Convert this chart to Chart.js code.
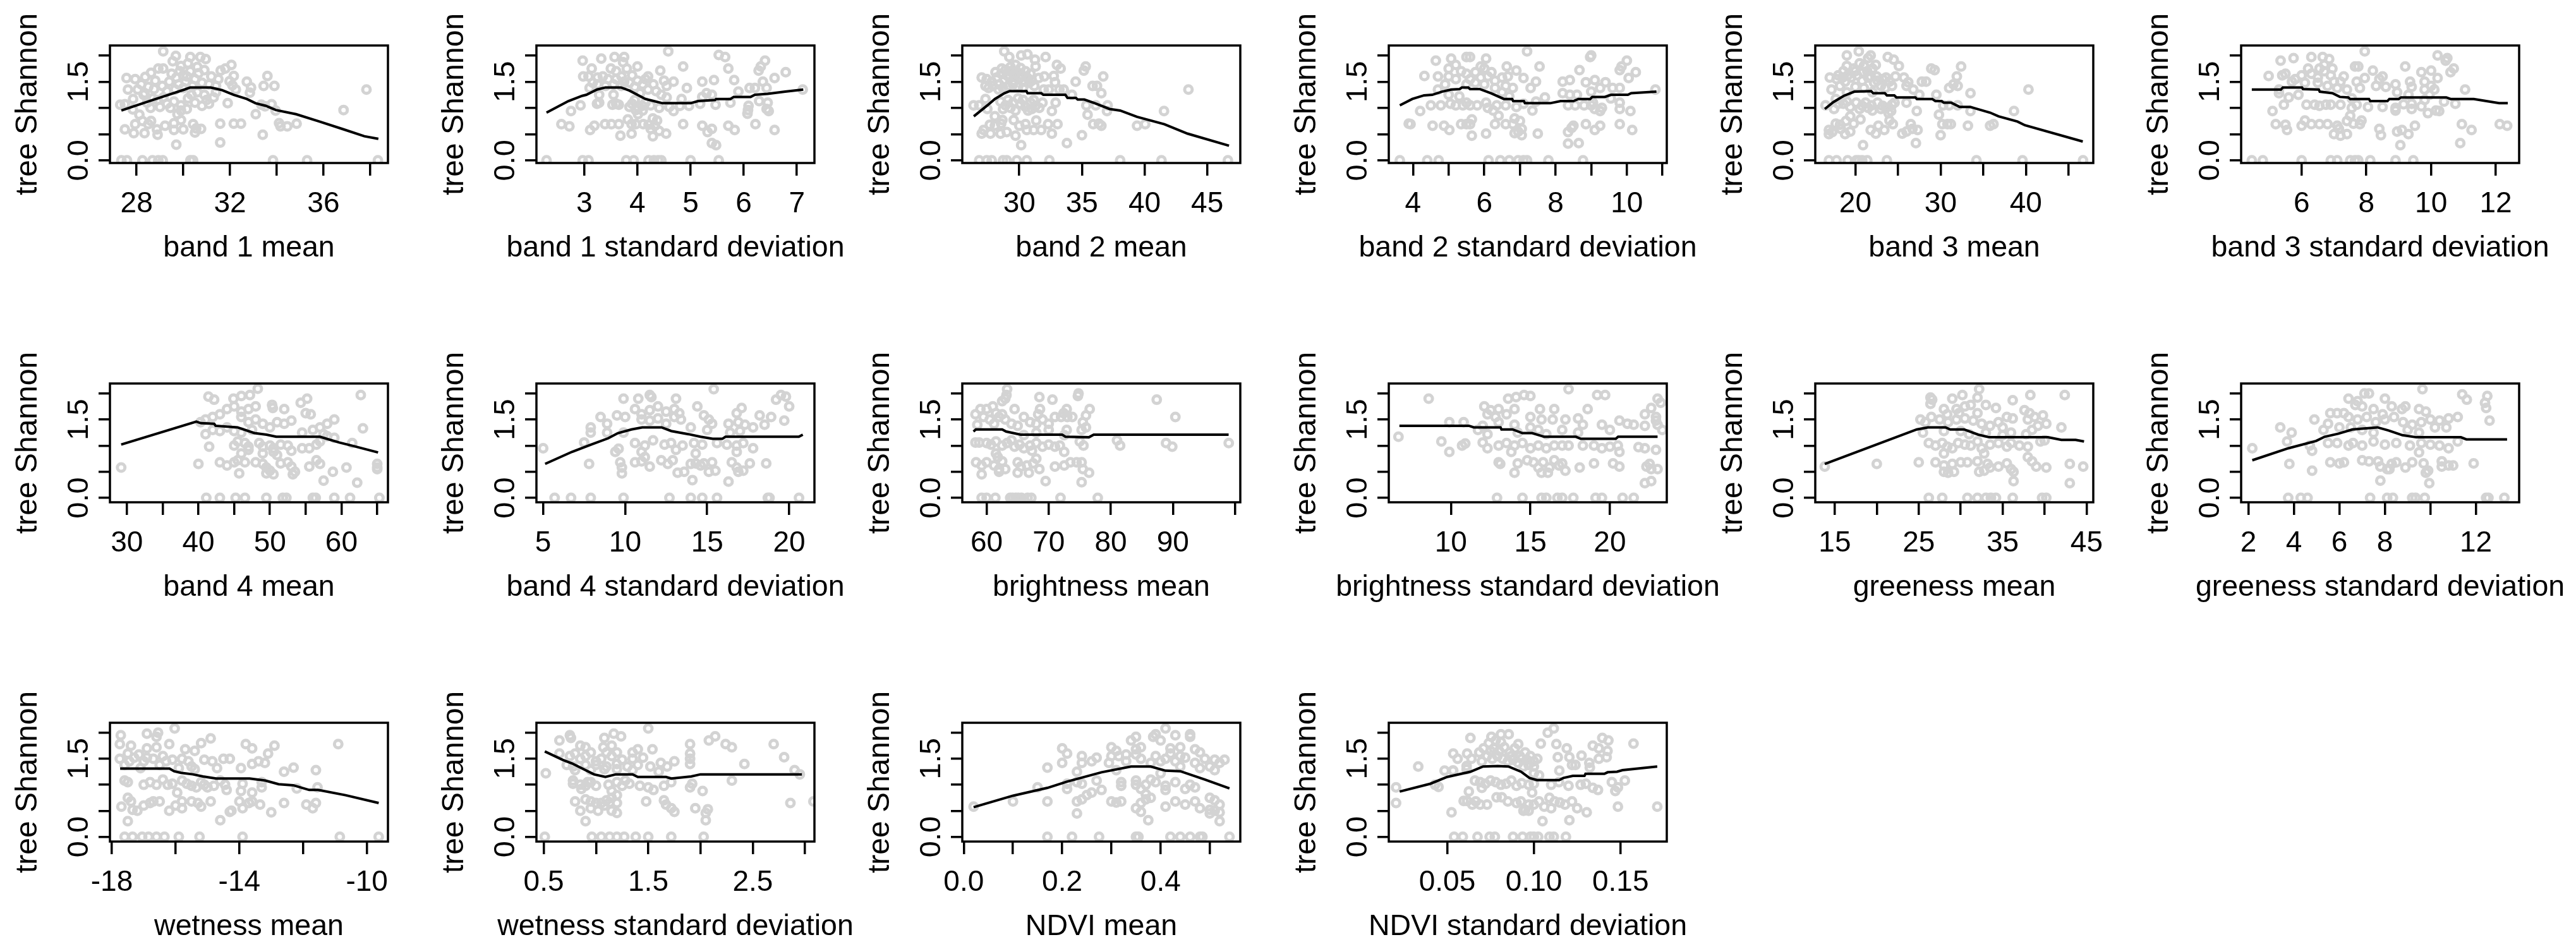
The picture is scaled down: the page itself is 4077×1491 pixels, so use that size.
<!DOCTYPE html>
<html>
<head>
<meta charset="utf-8">
<title>tree Shannon</title>
<script src="https://cdn.jsdelivr.net/npm/chart.js@4/dist/chart.umd.min.js"></script>
<style>
body { margin: 0; background: #fff; width: 4077px; height: 1491px; overflow: hidden; }
canvas { position: absolute; }
</style>
</head>
<body>
<script>
const yAxisTitle = 'tree Shannon';
const yTicks = [0, 0.5, 1, 1.5, 2];
const yTickLabels = ['0.0', '', '', '1.5', ''];

const panelTitles = ['band 1 mean', 'band 1 standard deviation', 'band 2 mean', 'band 2 standard deviation', 'band 3 mean', 'band 3 standard deviation',
  'band 4 mean', 'band 4 standard deviation', 'brightness mean', 'brightness standard deviation', 'greeness mean', 'greeness standard deviation',
  'wetness mean', 'wetness standard deviation', 'NDVI mean', 'NDVI standard deviation'];

const xLimits = [[26.86, 38.76], [2.1, 7.33], [25.45, 47.64], [3.32, 11.12], [15.3, 47.9], [4.13, 12.72],
  [27.63, 66.5], [4.59, 21.54], [56.08, 100.86], [6.09, 23.58], [12.67, 45.8], [1.68, 13.9],
  [-18.06, -9.34], [0.43, 3.09], [-0.003, 0.562], [0.0163, 0.1767]];

const xTicks = [[28, 30, 32, 34, 36, 38], [3, 4, 5, 6, 7], [30, 35, 40, 45], [4, 5, 6, 7, 8, 9, 10, 11], [20, 25, 30, 35, 40, 45], [6, 8, 10, 12],
  [30, 35, 40, 45, 50, 55, 60, 65], [5, 10, 15, 20], [60, 70, 80, 90, 100], [10, 15, 20], [15, 20, 25, 30, 35, 40, 45], [2, 4, 6, 8, 10, 12],
  [-18, -16, -14, -12, -10], [0.5, 1, 1.5, 2, 2.5, 3], [0, 0.1, 0.2, 0.3, 0.4, 0.5], [0.05, 0.1, 0.15]];

const xTickLabels = [['28', '', '32', '', '36', ''], ['3', '4', '5', '6', '7'], ['30', '35', '40', '45'], ['4', '', '6', '', '8', '', '10', ''], ['20', '', '30', '', '40', ''], ['6', '8', '10', '12'],
  ['30', '', '40', '', '50', '', '60', ''], ['5', '10', '15', '20'], ['60', '70', '80', '90', ''], ['10', '15', '20'], ['15', '', '25', '', '35', '', '45'], ['2', '4', '6', '8', '', '12'],
  ['-18', '', '-14', '', '-10'], ['0.5', '', '1.5', '', '2.5', ''], ['0.0', '', '0.2', '', '0.4', ''], ['0.05', '0.10', '0.15']];

// points as [x, shannon]
const band1MeanPts = [[29.14,2.08],[29.68,1.99],[29.55,1.89],[30.3,1.97],[30.73,1.97],[30.96,1.93],[32.06,1.82],[31.8,1.75],[31.6,1.71],[33.6,1.61],[32.72,1.5],[32.9,1.39],[32.85,1.29],[33.44,1.42],[33.9,1.42],[37.84,1.35],[36.86,.96],[32.16,1.61],[31.98,1.51],[32.1,1.43],[32.25,1.35],[31.9,1.09],[33.34,1.06],[33.78,1.07],[33.5,1.03],[33.95,.95],[33.1,.88],[31.58,.7],[32.16,.7],[32.47,.7],[34.1,.71],[34.16,.65],[34.45,.65],[34.85,.7],[33.4,.49],[31.58,.34],[29.7,.3],
[27.35,0],[27.59,0],[28.25,0],[28.68,0],[28.93,0],[29.12,0],[30.3,0],[30.42,0],[33.84,0],[35.3,0],[38.33,0],
[27.5,.59],[27.88,.52],[28.34,.52],[27.94,.69],[28.25,.75],[28.62,.75],[28.12,.87],[28.5,.69],[28.87,.59],[28.9,.49],[29.22,.66],[29.6,.71],[29.6,.58],[30,.59],[29.9,.77],[30.42,.69],[30.5,.53],[30.76,.6],[30.55,.61],
[27.57,1.57],[27.94,1.55],[27.63,1.35],[27.85,1.17],[27.3,1.06],[27.5,1.07],[27.84,.97],[28.37,1.59],[28.62,1.67],[28.93,1.75],[29.14,1.75],[28.2,1.45],[28.5,1.4],[28.8,1.52],[29.1,1.42],[29.4,1.5],[29.7,1.58],[30,1.62],[30.3,1.7],[30.6,1.78],[30.9,1.72],[31.2,1.6],[31.5,1.55],[29.9,1.8],[30.2,1.85],[30.5,1.55],[30.8,1.48],[31.1,1.45],[29.5,1.65],[29.8,1.45],[30.1,1.5],[30.4,1.42],[28.05,1.35],[28.35,1.28],[28.75,1.36],[29.3,1.32],[29.65,1.35],[30,1.38],[30.65,1.66],[30.15,1.6],[29.85,1.7],[31.4,1.42],
[28.3,1.25],[28.7,1.18],[29,1.02],[29.3,1.08],[28.6,1.0],[28.9,1.15],[29.6,1.12],[29.9,1.05],[30.2,1.18],[30.5,1.1],[30.8,1.04],[31.1,1.08],[31.3,1.2],[31.4,1.3],[30.9,1.25],[30.6,1.3],[29.9,.95],[29.75,.88],[30.15,.98],[29.15,1.2],[29.45,1],[28.45,1.1],[30.35,1.25],[31,1.15]];
const band1MeanLine = [[27.35,.95],[27.87,1.03],[28.62,1.14],[29.24,1.23],[30.05,1.35],[30.3,1.39],[31.17,1.39],[31.66,1.34],[32.16,1.25],[32.72,1.17],[33.09,1.09],[33.53,1.04],[33.96,.96],[34.83,.88],[35.83,.74],[36.8,.6],[37.75,.46],[38.35,.41]];

const band1SdPts = [[4.58,2.08],[5.53,2.01],[5.65,1.97],[5.71,1.75],[4.86,1.79],[2.97,1.9],[3.32,1.94],[3.57,1.97],[3.75,1.97],[3.73,1.87],[3.14,1.75],[4,1.79],[4.43,1.71],[6.4,1.9],[6.32,1.79],[6.28,1.71],[6.79,1.68],[6.58,1.57],[6.36,1.5],[6.43,1.38],[5.82,1.53],[5.44,1.53],[5.22,1.5],[4.68,1.5],[4.93,1.38],[6.11,1.38],[6.21,1.38],[5.9,1.31],[7.11,1.35],[5.3,1.28],[5.4,1.25],[5.22,1.21],[4.83,1.17],[5.47,1.06],[5.18,1.08],[4.97,1.04],[5.75,1.1],[6.29,1.13],[6.45,1.1],[6.09,1.04],[6.08,.96],[6.07,.89],[6.43,.98],[6.47,.94],[4.6,1.02],[4.68,.94],[4.8,1.04],[4.86,.69],[5.22,.66],[5.4,.6],[5.32,.54],[5.71,.66],[5.83,.58],[6.22,.69],[6.58,.58],[5.4,.33],[5.48,.29],
[2.29,0],[2.97,0],[3.08,0],[3.79,0],[3.93,0],[4.21,0],[4.31,0],[4.39,0],[4.45,0],[5,0],[5.53,0],
[2.57,.69],[2.72,.65],[2.75,.94],[2.93,1.05],[3.11,.58],[3.19,.66],[3.39,.69],[3.51,.69],[3.65,.69],[3.68,.47],[3.89,.51],[3.82,.78],[3.89,.69],[3.97,.69],[4.11,.69],[4.21,.68],[4.29,.8],[4.37,.76],[4.25,.6],[4.29,.46],[4.41,.56],[4.54,.51],[4.33,.66],[4.01,.88],[3.24,1.08],[3.28,1.1],[3.53,1.06],[3.65,1.06],[3.85,1.02],[4.01,1.02],[4.09,1.04],[4.41,1],[3.97,.96],[3.55,1.25],[3.28,1.25],
[2.98,1.6],[3.08,1.6],[3.16,1.48],[3.25,1.58],[3.35,1.6],[3.45,1.55],[3.5,1.75],[3.6,1.7],[3.7,1.6],[3.8,1.75],[3.9,1.62],[3.4,1.42],[3.55,1.45],[3.7,1.42],[3.85,1.48],[4,1.52],[4.1,1.45],[4.2,1.6],[4.3,1.45],[4.35,1.32],[4.5,1.52],[4.55,1.42],[4.45,1.25],[4.55,1.2],[4.2,1.35],[4.05,1.28],[3.95,1.15],[3.1,1.38],[3.25,1.45],[3.6,1.55],[3.75,1.5],[3.95,1.4],[4.15,1.55],[3.6,1.08],[3.9,1.08],[4.15,1.1],[4.25,1.05],[4.1,.95]];
const band1SdLine = [[2.29,.91],[2.7,1.13],[2.96,1.23],[3.04,1.25],[3.24,1.35],[3.4,1.39],[3.69,1.39],[3.85,1.33],[4.15,1.17],[4.31,1.13],[4.47,1.09],[5,1.09],[5.14,1.13],[5.46,1.15],[5.48,1.17],[5.75,1.17],[5.81,1.21],[6.13,1.21],[6.21,1.25],[6.45,1.27],[6.78,1.31],[7.12,1.35]];

const band2MeanPts = [[28.8,2.08],[29.2,1.97],[30.15,2],[30.65,2.02],[32.1,1.97],[31.25,1.92],[31.3,1.79],[33,1.82],[33.3,1.75],[35.3,1.79],[35.15,1.71],[36.7,1.6],[32.75,1.61],[32,1.6],[31.55,1.57],[32.85,1.49],[34.5,1.5],[35.85,1.42],[36.2,1.42],[36.55,1.28],[33.55,1.35],[33.2,1.35],[32.35,1.35],[31.95,1.35],[34.2,1.25],[43.5,1.35],[41.55,.94],[35.35,1.05],[36.1,1.05],[37.05,1.05],[37,.94],[32.9,1.1],[31.85,1.1],[32.6,.94],[35.45,.87],[35.9,.69],[36.35,.7],[36.55,.66],[39.4,.66],[40.05,.69],[35,.48],[33.8,.33],[30.15,.29],[33.05,.69],[32.3,.69],[32.6,.51],[31.35,.76],[29.55,.77],[28.05,.84],[28.65,.77],[28.55,.7],[30.5,.69],[30,.66],[30.6,.58],[29.7,.47],[29,.54],[28.5,.51],[27.7,.51],[27,.51],[27.15,.58],[27.65,.68],[28.05,.66],[31.15,.58],[31.75,.58],
[26.8,0],[27.4,0],[27.8,0],[28.7,0],[29,0],[29.8,0],[30.6,0],[32.4,0],[38.05,0],[41.35,0],[46.65,0],
[26.35,1.05],[26.8,1.05],[27.3,1.17],[27.45,.98],
[27,1.58],[27.4,1.55],[27.3,1.42],[27.8,1.5],[28.2,1.58],[28.1,1.68],[28.6,1.75],[28.9,1.72],[29.3,1.78],[29.7,1.82],[30.1,1.76],[30.5,1.7],[30.9,1.65],[28.4,1.45],[28.8,1.52],[29.2,1.58],[29.6,1.62],[30,1.56],[30.4,1.5],[30.8,1.48],[31.2,1.42],[28.7,1.38],[29.1,1.42],[29.5,1.45],[29.9,1.4],[30.3,1.38],[27.55,1.38],[27.9,1.42],[28.35,1.35],[28.55,1.65],[29,1.62],[29.4,1.68],[29.85,1.68],[30.25,1.62],[30.7,1.56],[31,1.52],[29.6,1.52],[29.25,1.7],
[28.5,1.12],[28.9,1.05],[29.3,1],[29.7,.95],[30.1,1.08],[30.5,1.02],[30.9,1.1],[31.3,1.04],[31.6,1],[29.1,1.15],[29.9,1.18],[31,.98],[28.7,.98],[29.5,1.1],[30.3,1.15],[31.15,1.15],[30.7,.95]];
const band2MeanLine = [[26.37,.84],[27.46,1.05],[28.05,1.17],[28.81,1.28],[29.23,1.32],[30.57,1.32],[30.66,1.28],[31.75,1.28],[31.92,1.25],[33.68,1.25],[33.85,1.19],[34.52,1.19],[34.66,1.16],[35.19,1.16],[36.03,1.09],[37.2,.98],[38.05,.95],[39.39,.83],[41.58,.69],[43.43,.51],[46.74,.28]];

const band2SdPts = [[7.2,2.08],[8.97,1.97],[9,2],[4.64,1.9],[5.07,1.94],[5.5,1.97],[5.6,1.97],[6.05,1.94],[8.67,1.72],[10,1.9],[9.85,1.79],[9.8,1.72],[10.25,1.68],[10.05,1.57],[7.55,1.79],[6.63,1.79],[6.9,1.71],[6.66,1.6],[4.32,1.61],[4.7,1.6],[5.0,1.75],[5.2,1.82],[5.9,1.79],[6,1.75],[7.1,1.57],[7.45,1.5],[7.3,1.38],[8.2,1.5],[8.4,1.53],[8.85,1.49],[9.1,1.53],[9.4,1.49],[9.6,1.38],[9.8,1.38],[9.25,1.38],[9,1.31],[10.8,1.35],[8.2,1.28],[8.4,1.25],[8.6,1.25],[7.7,1.2],[7.45,1.12],[7.35,.95],[8.35,1.05],[8.55,1.05],[8.8,1.05],[9,1.05],[9.05,1.1],[9.1,.98],[9.25,.94],[9.3,1],[9.55,1.18],[9.8,1.1],[9.8,.98],[10.1,.94],[3.88,.7],[4.2,.94],[4.5,1.05],[3.93,.69],[4.55,.66],[4.87,.66],[5.02,.58],[5.35,.69],[5.5,.69],[5.65,.78],[5.6,.69],[5.65,.47],[6.05,.51],[6.3,.69],[6.6,.69],[6.8,.69],[6.85,.8],[7,.75],[6.95,.55],[7.05,.6],[7.05,.48],[7.5,.51],[6.85,.52],[8.35,.32],[8.65,.33],[8.35,.54],[8.45,.62],[8.5,.66],[8.85,.69],[9.1,.58],[9.25,.66],[9.8,.69],[10.15,.58],
[3.63,0],[4.4,0],[4.72,0],[6.12,0],[6.45,0],[6.7,0],[6.95,0],[7.1,0],[7.2,0],[7.8,0],[8.77,0],
[4.78,1.05],[5.2,1.05],[5.4,1.05],[5.6,1.05],[5.8,1.05],[6.1,1.0],[6.35,1.05],[6.6,1.05],[6.4,.85],[6.25,.95],[6.9,1.02],[7.1,1.08],[5.0,1.25],[5.3,1.22],[4.7,1.35],[4.9,1.45],[5,1.6],[5.2,1.55],[5.5,1.65],[5.6,1.55],[5.9,1.58],[6.1,1.6],[6.3,1.52],[6.5,1.58],[6.6,1.42],[6.8,1.38],[5.5,1.45],[6,1.45],[6.3,1.38],[6.7,1.22],[5.35,1.7],[5.75,1.68],[6.2,1.68],[5.75,1.48],[6.5,1.3],[5.05,1.08],[5.5,1.1],[6.05,1.1]];
const band2SdLine = [[3.63,1.05],[3.98,1.17],[4.31,1.24],[4.54,1.25],[4.81,1.31],[5.07,1.35],[5.31,1.36],[5.37,1.39],[5.55,1.39],[5.6,1.36],[5.87,1.36],[6.19,1.28],[6.55,1.17],[6.78,1.17],[6.81,1.13],[7.11,1.13],[7.14,1.09],[7.85,1.09],[8.14,1.13],[8.5,1.13],[8.64,1.17],[8.97,1.17],[9.03,1.21],[9.38,1.21],[9.56,1.25],[10.03,1.25],[10.12,1.28],[10.83,1.31]];

const band3MeanPts = [[20.4,2.08],[19,2.0],[21.8,2],[21.5,1.95],[23.8,1.97],[24.5,1.92],[25.1,1.8],[22.4,1.82],[28.9,1.75],[29.3,1.72],[32.4,1.79],[31.9,1.6],[24.7,1.6],[25.7,1.58],[26.2,1.49],[27.8,1.5],[28.3,1.5],[26,1.42],[26.8,1.35],[27.5,1.25],[31.5,1.45],[31,1.38],[32,1.42],[33.5,1.28],[29.5,1.25],[40.3,1.35],[38.6,.94],[24.6,1.1],[26,1.1],[27.2,.94],[30.3,1.05],[31,1.05],[32,1.05],[33.5,.94],[29.8,.87],[30.2,.69],[30.8,.69],[31.2,.69],[33.2,.66],[35.8,.66],[36.2,.69],[30,.48],[27.1,.33],[20.9,.29],[26.5,.69],[26.7,.6],[27.3,.58],[26,.55],[25.5,.51],[22.4,.51],[21.8,.58],[22.7,.66],[23.4,.58],[24,.76],[24.4,.69],[20.6,.78],[19.4,.84],[18.9,.75],[17.7,.7],[17.3,.54],[16.9,.5],[16.9,.58],[18.3,.6],[18.8,.5],[19.4,.55],[18.2,.68],[19.8,.7],
[16.9,0],[17.8,0],[19.1,0],[20.1,0],[20.4,0],[20.8,0],[21.4,0],[23.7,0],[34.2,0],[39.6,0],[46.7,0],
[16.5,1.05],[17.5,.98],[17.7,1.17],[17.2,1.35],[17,1.58],[17.8,1.55],[18.6,1.7],[19,1.8],[19.8,1.75],[20.5,1.85],[21,1.8],[22,1.75],[22.5,1.6],[23.2,1.55],[24,1.5],[18.2,1.42],[18.8,1.5],[19.5,1.58],[20.2,1.62],[20.8,1.52],[21.5,1.58],[22.2,1.48],[23,1.42],[19,1.3],[20,1.4],[21,1.38],[22,1.3],[23.5,1.38],[18,1.62],[18.5,1.58],[19.1,1.62],[20,1.7],[20.9,1.68],[21.4,1.7],[21.8,1.6],[22.6,1.52],[23.6,1.58],[24.3,1.42],
[18.6,1.08],[19.4,1.02],[20.1,1.1],[20.8,1.04],[21.5,1],[22,.95],[22.6,1.1],[23.2,1.04],[23.9,.9],[24.2,.94],[23.6,1.0],[18,1.08],[19,1.12],[20.5,.98],[21.2,1.1],[21.9,1.05],[23,.98],[24.3,1.06]];
const band3MeanLine = [[16.42,.98],[17.41,1.11],[18.64,1.23],[19.88,1.31],[21.85,1.32],[22.1,1.28],[23.46,1.28],[23.7,1.24],[24.57,1.24],[24.81,1.2],[27.04,1.2],[27.21,1.17],[29.01,1.17],[29.38,1.13],[30.12,1.13],[30.37,1.1],[31.23,1.1],[32.22,1.02],[33.46,1.02],[35.8,.91],[36.79,.84],[39.01,.74],[39.88,.67],[46.67,.36]];

const band3SdPts = [[7.95,2.08],[10.2,2],[10.5,1.95],[10.45,1.9],[5.35,1.9],[5.75,1.95],[6.3,1.97],[6.65,1.97],[6.85,1.93],[7.65,1.79],[7.75,1.79],[8.2,1.71],[9.2,1.79],[10.7,1.75],[10.6,1.68],[10,1.71],[9.7,1.68],[4.98,1.61],[5.1,.94],[8.5,1.6],[8.4,1.55],[7.7,1.5],[7.95,1.57],[7.3,1.6],[8.3,1.42],[7.8,1.38],[7.4,1.35],[8.6,1.4],[8.9,1.45],[8.95,1.3],[9.35,1.5],[9.4,1.4],[9.3,1.25],[9.8,1.5],[10.2,1.57],[10,1.42],[9.8,1.35],[10.1,1.35],[9.95,1.25],[11.05,1.35],[5.3,1.35],[5.3,1.28],[5.6,1.2],[5.9,1.25],[5.45,1.06],[10.4,1.12],[10.75,1.08],[9.8,1.15],[8.9,1],[9.15,1.07],[9.4,1.08],[9.7,1.03],[9.4,.98],[8.5,1.02],[8.9,.95],[9.9,.9],[10.15,.95],[10.25,.94],
[5.2,.69],[5.5,.68],[5.55,.58],[6,.66],[6.1,.76],[6.3,.69],[6.55,.69],[6.8,.69],[7.1,.66],[7,.5],[7.2,.47],[7.4,.5],[7.15,.6],[7.4,.75],[7.6,.7],[7.8,.69],[7.85,.76],[7.5,.85],[7.55,1],[8.4,.6],[8.45,.48],[8.95,.55],[9.1,.58],[9.3,.5],[9.5,.66],[9.05,.29],[10.95,.69],[11.25,.58],[10.9,.33],[12.12,.69],[12.35,.66],
[4.46,0],[4.8,0],[6,0],[6.9,0],[7.1,0],[7.5,0],[7.65,0],[7.75,0],[8.12,0],[8.9,0],[9.45,0],
[6.15,1.06],[6.4,1.06],[6.55,1.04],[6.75,1.06],[6.9,1.06],[7.2,1.06],[7.7,1.06],[8.05,1.02],[5.8,1.55],[6,1.62],[6.3,1.65],[6.5,1.58],[6.7,1.7],[6.9,1.62],[7,1.5],[5.5,1.65],[5.7,1.5],[6.1,1.48],[6.5,1.48],[6.8,1.42],[7.1,1.38],[5.4,1.62],[6.7,1.82],[6.2,1.75],[6.55,1.75],[6.95,1.75],[7.2,1.5],[7.55,1.18]];
const band3SdLine = [[4.46,1.35],[5.36,1.35],[5.42,1.39],[6.01,1.39],[6.04,1.36],[6.53,1.35],[6.56,1.31],[6.95,1.28],[7.18,1.21],[7.44,1.2],[7.5,1.17],[8.08,1.17],[8.12,1.13],[8.65,1.13],[8.71,1.17],[9,1.17],[9.07,1.2],[10.47,1.2],[10.6,1.17],[11.32,1.17],[12.1,1.09],[12.37,1.09]];

const band4MeanPts = [[48.3,2.09],[47.2,1.97],[46,1.95],[44.9,1.9],[41.4,1.94],[42.2,1.88],[55.2,1.9],[54.3,1.82],[52,1.7],[62.7,1.97],[50.3,1.78],[50.4,1.72],[55,1.62],[55.7,1.6],[59,1.5],[58,1.42],[57,1.35],[63,1.33],[40.3,1.45],[41,1.5],[42,1.55],[43,1.6],[44,1.7],[45,1.75],[46,1.65],[47,1.7],[48,1.75],[46,1.55],[47,1.45],[48,1.5],[49,1.42],[50,1.35],[51,1.45],[52,1.42],[53,1.48],[42,1.3],[41,1.22],[43,1.28],[44,1.35],[45,1.28],[46,1.25],[47.5,1.3],[54.5,1.25],[56,1.3],[57.5,1.22],[58,1.18],[59,1.15],
[45,1],[45.5,1.08],[46.5,1.05],[47,.98],[48.5,1.05],[49,.98],[50,1],[50.5,.95],[51.5,1.02],[52.5,1],[53,.9],[54.5,.95],[55.5,.95],[56.5,1.02],[57,1.08],[61.5,1.05],[49,.85],[50.5,.88],[51,.82],[47,.92],[46,.85],[41.5,.98],
[29.2,.58],[40,.65],[43,.68],[44,.62],[45,.68],[45.5,.72],[46.5,.68],[48,.68],[49,.65],[49.5,.58],[50,.52],[50.5,.45],[49.5,.47],[51.5,.66],[52.5,.68],[53,.6],[53.5,.5],[53.2,.45],[55.5,.6],[56.5,.72],[57,.65],[58.8,.5],[60.7,.58],[57.5,.33],[62.2,.29],[65,.65],[65,.58],[65,.55],[45.7,.47],
[41.1,0],[43,0],[45.2,0],[46.5,0],[49.5,0],[51.8,0],[52.3,0],[56,0],[56.4,0],[59,0],[61.2,0],[65.3,0]];
const band4MeanLine = [[29.2,1.02],[39.7,1.46],[40.37,1.43],[42.2,1.42],[42.4,1.38],[45.46,1.35],[47.83,1.24],[49.53,1.21],[50.88,1.17],[56.98,1.17],[59.69,1.06],[61.73,.99],[65.12,.87]];

const band4SdPts = [[15.4,2.08],[19.5,1.97],[19.8,1.94],[19.2,1.88],[20,1.75],[11.5,1.97],[11.6,1.93],[10.8,1.9],[9.9,1.9],[13.1,1.9],[14.4,1.75],[17.1,1.72],[16.8,1.62],[18.2,1.58],[19.7,1.48],[18.9,1.55],[8.5,1.55],[8.9,1.42],[9.5,1.58],[10,1.55],[10.6,1.7],[11,1.6],[11.5,1.68],[12,1.75],[12.5,1.65],[13,1.7],[13.3,1.62],[11,1.5],[11.5,1.48],[12,1.52],[12.5,1.42],[13,1.55],[13.4,1.5],[14,1.35],[14.8,1.58],[15.1,1.5],[15.3,1.42],[15,1.3],[16.3,1.42],[16.9,1.45],[17.3,1.4],[17.8,1.35],[16.4,1.25],[17,1.28],[18.5,1.4],[7.9,1.35],[7.9,1.25],[8.9,1.25],[7.5,1.06],[6.7,0],[5,.95],[7.8,.65],[9.4,.88],[9.6,.94],[9.9,1.25],
[10.6,1.05],[11.2,1],[11.7,1.1],[12.4,1.02],[12.8,1.05],[13.5,1],[14.2,1.05],[14.7,1.02],[15.6,1.05],[16.2,1.02],[16.8,1],[17.2,1.05],[16.8,.88],[17.8,.95],[13.1,.92],[14.3,.85],[11,.88],
[9.7,.68],[9.8,.58],[10.6,.68],[11,.7],[11.2,.78],[11.5,.6],[12.2,.72],[12.6,.65],[12.9,.72],[13.2,.48],[13.6,.5],[14.3,.66],[14.8,.66],[15.3,.68],[15.5,.52],[15.1,.5],[14,.65],[14.6,.62],[14.1,.34],[16.3,.31],[16.5,.68],[16.8,.58],[16.9,.5],[17.2,.52],[17.6,.66],[18.6,.66],[9.8,.47],
[5.7,0],[7.9,0],[9.9,0],[12.7,0],[14,0],[14.7,0],[15.6,0],[18.7,0],[18.8,0],[20.6,0]];
const band4SdLine = [[5.12,.65],[6.75,.88],[7.93,1.02],[8.96,1.14],[9.56,1.24],[10.38,1.31],[11.04,1.35],[12.22,1.35],[12.81,1.28],[13.85,1.22],[14.59,1.17],[15.33,1.13],[15.92,1.13],[16.12,1.17],[20.59,1.17],[20.83,1.21]];

const brightnessMeanPts = [[63.3,2.08],[63.2,1.97],[63,1.9],[62.5,1.85],[68.5,1.93],[70.6,1.88],[74.8,2],[74.7,1.95],[87.4,1.88],[68.6,1.7],[68.3,1.6],[72.9,1.7],[72.4,1.62],[76.6,1.7],[76,1.58],[58.2,1.6],[58.5,1.4],[59,1.7],[60,1.7],[61,1.75],[61.5,1.62],[62.5,1.6],[64.5,1.7],[59.5,1.55],[60.5,1.5],[61.2,1.42],[62,1.55],[63,1.5],[64,1.42],[65,1.38],[66,1.55],[67,1.45],[68,1.42],[69,1.5],[70,1.42],[71,1.55],[72,1.55],[73,1.55],[73.8,1.55],[90.4,1.55],[70,1.3],[72.9,1.3],[72.5,1.2],[75.3,1.3],[75.5,1.45],[76,1.35],[68,1.25],[66,1.2],
[58.2,1.06],[58.8,1.06],[60,1.05],[60.7,1.02],[61.5,1.08],[62.5,1.0],[63.3,1.05],[64,1.1],[64.5,.98],[65.3,1.02],[66,.95],[67,1.0],[67.3,.9],[68,1.05],[69,.98],[70,1.02],[71,.98],[71.8,1],[75,1.08],[75.6,1.0],[81,1.1],[81.5,1.0],[88.9,1.05],[89.9,.98],[99,1.05],[72.5,.88],[61.5,.85],[61.8,.78],
[58.3,.68],[59.2,.62],[60,.68],[61.2,.62],[62.5,.7],[62,.55],[62,.5],[63,.55],[65,.68],[65.5,.6],[65,.48],[66.5,.62],[66.8,.48],[67.5,.66],[68,.75],[68.5,.55],[71,.6],[72.5,.62],[73.5,.68],[74.5,.68],[75.3,.68],[75.5,.55],[76.5,.48],[69.5,.32],[75.3,.3],[59.2,.45],
[59.2,0],[60,0],[61.4,0],[63.8,0],[64.2,0],[64.7,0],[65.1,0],[65.6,0],[66.6,0],[67.2,0],[71.9,0],[77.9,0]];
const brightnessMeanLine = [[57.88,1.27],[58.27,1.31],[62.51,1.31],[63.14,1.27],[64.31,1.24],[65.49,1.21],[72.16,1.21],[72.7,1.17],[76.47,1.16],[77.25,1.21],[98.98,1.21]];

const brightnessSdPts = [[17.4,2.08],[19.2,1.97],[19.7,1.97],[8.6,1.9],[13.6,1.9],[14.1,1.93],[14.6,1.97],[15,1.95],[23,1.9],[23.2,1.82],[22.6,1.72],[18.6,1.7],[22.2,1.6],[22.9,1.55],[15.6,1.7],[16.5,1.7],[14,1.7],[12.1,1.75],[12.5,1.68],[13,1.7],[12.3,1.6],[12.8,1.55],[13.5,1.6],[9.9,1.45],[10.8,1.45],[12,1.38],[13,1.45],[14,1.4],[15,1.55],[15.7,1.5],[16.4,1.5],[17.2,1.5],[18,1.52],[18.3,1.4],[19.5,1.4],[20,1.3],[20.6,1.48],[21.1,1.42],[21.5,1.4],[22.2,1.38],[23,1.4],[22.9,1.48],[23.3,1.3],[15,1.35],[15.5,1.3],[16,1.22],[17,1.3],[18,1.25],[14.2,1.25],[11.7,1.3],[12.3,1.22],[6.7,1.17],[9.4,1.08],[10.7,1],[10.9,1.04],[9.9,.88],
[12,1.06],[12.3,.95],[13,1],[13.5,1.05],[14,1],[14.5,1.05],[15,.95],[15.5,1],[16,.95],[16.5,1],[17,1],[17.4,1],[18.3,1.0],[19,1],[19.5,.95],[20,.98],[20.5,1],[20.6,.88],[21.8,.97],[22.2,.95],[22.9,.92],[13.8,.88],
[13,.68],[13.1,.65],[14.2,.66],[14.8,.72],[15.2,.68],[15.5,.58],[15.8,.68],[16.1,.48],[16.5,.72],[17,.66],[16.8,.62],[17.2,.52],[18.1,.58],[19,.66],[20.2,.66],[20.6,.6],[22.3,.6],[22.5,.65],[22.6,.55],[23,.55],[14,.48],[16.2,.58],[15.7,.48],[22.2,.28],[22.6,.32],
[12.9,0],[14.5,0],[15.7,0],[16,0],[16.7,0],[17,0],[17.7,0],[19.1,0],[19.5,0],[20.8,0],[21.5,0]];
const brightnessSdLine = [[6.76,1.38],[11.13,1.38],[11.44,1.35],[13.12,1.35],[13.18,1.31],[13.88,1.31],[14.5,1.24],[15.11,1.24],[15.87,1.17],[17.86,1.17],[18.17,1.13],[20.37,1.13],[20.52,1.17],[23,1.17]];

const greenessMeanPts = [[32.2,2.08],[38.3,1.97],[42.4,1.97],[26.4,1.92],[26.6,1.88],[26.4,1.8],[29,1.9],[30.2,1.97],[32,1.92],[36.2,1.87],[31.2,1.78],[33,1.78],[34.2,1.72],[37.6,1.68],[38.2,1.62],[39.8,1.58],[29.5,1.7],[28,1.7],[28.4,1.6],[29.8,1.62],[30.5,1.75],[32,1.62],[35.5,1.55],[36.2,1.52],[38,1.5],[38.8,1.55],[40.2,1.42],[39.2,1.38],[42,1.35],[25.2,1.5],[25.8,1.45],[26.5,1.55],[27.5,1.5],[28.5,1.45],[29.5,1.5],[30.5,1.52],[31.5,1.48],[32.5,1.42],[33.5,1.38],[34.5,1.45],[35,1.35],[25.5,1.25],[28,1.28],[30,1.28],[31,1.22],[33,1.25],[35,1.2],[36,1.25],[37.8,1.22],[38.5,1.3],
[26.2,1.05],[27,1],[27.8,1.05],[28.4,.98],[29,.95],[29.7,1.05],[30.5,1.02],[31.2,1],[32,1.08],[32.5,.95],[33.5,1.02],[34.5,1.05],[35.5,.98],[36,1.05],[37,1.0],[38,.98],[39.5,1.08],[40,1.1],[43,.65],[38,.78],[28,.85],[32.8,.85],
[13.8,.6],[20,.65],[25,.68],[27,.68],[28,.62],[29,.65],[30,.68],[30.8,.68],[32,.7],[32.8,.52],[33.5,.58],[33.2,.65],[34.5,.6],[35.5,.66],[36,.55],[36.3,.5],[36.3,.32],[38.5,.7],[39,.6],[40.2,.58],[43,.28],[44.6,.6],[28,.5],[28.5,.48],[29.2,.5],[32.2,.5],
[26.2,0],[27.8,0],[30.8,0],[32,0],[33,0],[33.6,0],[34.2,0],[36.2,0],[39.7,0],[40.2,0]];
const greenessMeanLine = [[13.8,.65],[24.77,1.31],[26.1,1.35],[28.2,1.35],[28.75,1.31],[30.4,1.31],[32.1,1.21],[33.4,1.16],[40.4,1.16],[42,1.11],[43.7,1.11],[44.7,1.08]];

const greenessSdPts = [[9.65,2.08],[11.4,1.98],[11.6,1.88],[12.5,1.95],[12.4,1.82],[12.45,1.72],[12.6,1.48],[7.1,2],[7.3,2.0],[6.4,1.9],[6.8,1.85],[8,1.9],[8.3,1.75],[8.75,1.7],[8.9,1.75],[9.5,1.7],[9.8,1.65],[6.7,1.78],[7,1.75],[7.5,1.7],[7.9,1.6],[5.6,1.62],[5.9,1.62],[6.2,1.62],[4.9,1.5],[5.5,1.42],[5.3,1.3],[3.4,1.35],[3.9,1.25],[6.4,1.55],[6.8,1.5],[7.2,1.55],[7.6,1.45],[8,1.5],[8.4,1.55],[8.8,1.45],[9.2,1.4],[9.6,1.45],[10,1.5],[10.4,1.48],[10.8,1.52],[11.2,1.55],[10.2,1.35],[10.7,1.35],[6,1.35],[6.5,1.35],[7,1.3],[7.5,1.25],[9,1.3],[9.5,1.25],[2.17,.95],[3.7,1.08],[4.7,1],[4.8,.9],[5.5,1.05],[5.9,1.05],[6.4,1.0],[6.6,1.05],[7,1],[7.5,1.08],[8,1.02],[8.5,1.05],[9.1,1],[9.6,1.05],[10,1.02],[10.4,1],[10.8,.95],[11.2,1.08],[9.5,.87],
[3.8,.65],[4.8,.52],[5.6,.68],[6,.66],[6.2,.68],[7,.72],[7.3,.7],[7.7,.7],[7.8,.6],[8.1,.55],[8.3,.65],[8.5,.68],[8.2,.55],[8.9,.58],[9.2,.68],[9.7,.66],[9.9,.52],[9.8,.48],[10.5,.7],[10.5,.6],[10.8,.62],[11,.62],[11.9,.66],[7.8,.33],[9.95,.28],
[3.75,0],[4.3,0],[4.6,0],[7.35,0],[8.1,0],[8.35,0],[9.2,0],[9.35,0],[9.75,0],[12.45,0],[12.55,0],[13.25,0]];
const greenessSdLine = [[2.17,.72],[3.76,.95],[4.98,1.09],[5.35,1.17],[5.96,1.23],[6.57,1.31],[7.67,1.35],[8.16,1.29],[8.77,1.2],[9.38,1.16],[11.34,1.16],[11.58,1.12],[13.37,1.12]];

const wetnessMeanPts = [[-16.03,2.08],[-17.72,1.95],[-16.9,1.98],[-16.55,2],[-16.6,1.92],[-14.9,1.89],[-15.2,1.8],[-16.2,1.78],[-17.75,1.78],[-17.4,1.75],[-13.8,1.78],[-13.6,1.7],[-12.9,1.75],[-10.9,1.78],[-16.9,1.7],[-16.6,1.72],[-15.7,1.68],[-15.4,1.65],[-13.1,1.6],[-13.4,1.45],[-13.2,1.42],[-13.6,1.4],[-12.3,1.33],[-12.6,1.25],[-11.6,1.28],[-13.95,1.32],[-14.5,1.5],[-14.3,1.5],[-14.85,1.45],[-14.7,1.32],[-15.1,1.48],[-15.5,1.35],[-17.75,1.5],[-17.5,1.6],[-17.3,1.52],[-17,1.45],[-16.7,1.5],[-16.4,1.55],[-16.1,1.48],[-15.8,1.5],[-17.6,1.38],[-17.1,1.32],[-16.5,1.38],[-15.9,1.32],[-15.4,1.3],[-17.45,1.45],[-17.15,1.58],[-16.9,1.52],[-16.3,1.45],[-15.6,1.45],
[-17.5,1.05],[-17.6,1.08],[-17,1],[-16.8,1.05],[-16.4,1.1],[-16.1,1.02],[-15.8,1.08],[-15.5,.98],[-15.2,1.05],[-15,.95],[-14.8,.98],[-14.45,1.0],[-14.4,.9],[-14.6,1.08],[-13.6,.85],[-13.95,.88],[-13.9,1.02],[-13.3,.95],[-13.3,1.05],[-12.2,.93],[-11.55,.95],[-15.95,.85],[-16.6,1],[-16.25,1],[-15.65,1.02],[-15.35,.95],[-15.1,1],
[-17.5,.75],[-17.7,.58],[-17.4,.68],[-17.35,.52],[-17.2,.5],[-17,.6],[-16.8,.65],[-16.7,.68],[-16.5,.68],[-16.2,.5],[-16,.6],[-15.8,.68],[-15.8,.55],[-15.5,.68],[-15.3,.65],[-15.2,.58],[-14.9,.68],[-14.6,.32],[-14.3,.48],[-14.25,.5],[-14,.68],[-13.9,.55],[-13.7,.65],[-13.6,.68],[-13.35,.62],[-13,.47],[-12.6,.65],[-11.9,.62],[-11.7,.55],[-11.6,.65],[-17.5,.3],
[-17.6,0],[-17.35,0],[-17.05,0],[-16.85,0],[-16.6,0],[-16.35,0],[-15.9,0],[-15.25,0],[-13.9,0],[-10.85,0],[-9.63,0]];
const wetnessMeanLine = [[-17.74,1.31],[-16.19,1.31],[-16.05,1.26],[-15.83,1.23],[-15.46,1.2],[-15.14,1.16],[-14.73,1.12],[-13.68,1.12],[-13.18,1.08],[-12.77,1.01],[-12.31,.99],[-11.81,.9],[-11.53,.9],[-10.67,.8],[-9.63,.65]];

const wetnessSdPts = [[1.5,2.08],[.75,1.95],[.76,1.9],[.65,1.85],[1.08,1.9],[1.17,1.98],[1.24,1.93],[2.08,1.85],[2.14,1.93],[2.24,1.78],[2.3,1.72],[2.7,1.78],[1.9,1.78],[1.9,1.6],[1.9,1.5],[1.9,1.4],[2.8,1.53],[2.42,1.4],[1.54,1.68],[1.4,1.68],[1.35,1.62],[1.2,1.62],[1.15,1.75],[1.07,1.72],[.85,1.75],[.9,1.72],[.65,1.6],[.75,1.55],[.85,1.5],[.95,1.62],[1.05,1.5],[1.15,1.55],[1.25,1.48],[1.35,1.5],[1.45,1.52],[.72,1.38],[.78,1.35],[.9,1.38],[1,1.38],[1.1,1.35],[1.2,1.4],[1.3,1.35],[1.4,1.38],[1.52,1.35],[1.62,1.42],[1.68,1.35],[1.75,1.45],[.8,1.28],[.95,1.28],[1.08,1.3],[1.35,1.28],[1.6,1.25],[.52,1.22],[2.9,1.28],[2.95,1.2],[.8,1.6],[.9,1.55],[1,1.45],[1.1,1.62],[1.2,1.3],
[.78,1.08],[.85,1],[.95,1.05],[1,.98],[.78,1.02],[.86,.92],[.92,1.05],[1.12,1.0],[1.2,1.05],[1.25,.98],[1.32,1.02],[1.42,.98],[1.5,.95],[1.55,.9],[1.65,.98],[1.72,1.05],[1.9,.95],[1.92,1.02],[2.02,.88],[2.3,1.08],[1.15,.88],[1.2,.8],[.9,.98],[1.28,1.08],
[.8,.68],[.9,.72],[.95,.68],[1,.65],[1.05,.65],[1.1,.7],[1.15,.75],[1.2,.65],[.95,.55],[.85,.5],[1.02,.5],[1.15,.5],[1.2,.46],[.9,.3],[1.48,.68],[1.65,.7],[1.67,.62],[1.72,.55],[1.75,.48],[1.95,.55],[2.05,.46],[2.07,.53],[2.05,.32],[2.86,.65],[3.08,.68],[1.08,.6],[1.13,.66],
[.51,0],[.96,0],[1.05,0],[1.13,0],[1.2,0],[1.27,0],[1.38,0],[1.5,0],[1.72,0],[2.03,0]];
const wetnessSdLine = [[.51,1.64],[.68,1.48],[.77,1.41],[.98,1.2],[1.09,1.15],[1.19,1.2],[1.35,1.2],[1.4,1.15],[1.67,1.15],[1.72,1.12],[1.91,1.16],[2,1.2],[2.97,1.2]];

const ndviMeanPts = [[.41,2.08],[.39,1.97],[.43,1.95],[.46,1.97],[.46,1.92],[.35,1.92],[.34,1.85],[.385,1.92],[.4,1.85],[.2,1.7],[.3,1.72],[.31,1.65],[.33,1.58],[.35,1.68],[.36,1.72],[.42,1.7],[.44,1.72],[.47,1.68],[.48,1.62],[.42,1.6],[.39,1.55],[.21,1.6],[.3,1.55],[.315,1.55],[.24,1.55],[.27,1.52],[.26,1.45],[.24,1.42],[.295,1.42],[.2,1.42],[.17,1.33],[.23,1.25],[.33,1.45],[.36,1.5],[.38,1.42],[.41,1.5],[.43,1.45],[.45,1.52],[.47,1.42],[.49,1.5],[.51,1.48],[.53,1.48],[.52,1.42],[.5,1.35],[.48,1.32],[.51,1.28],[.44,1.35],[.31,1.28],[.4,1.22],[.35,1.58],[.4,1.45],[.44,1.55],
[.32,1.05],[.32,.98],[.35,1.08],[.37,1.0],[.39,1.05],[.41,.98],[.43,1.05],[.45,.92],[.46,1],[.47,.95],[.36,.92],[.41,.9],[.37,.82],[.15,.95],[.21,1.02],[.23,1.05],[.24,1.02],[.27,1.08],[.21,.92],[.26,.85],[.28,.9],[.25,.8],[.38,1.1],[.35,1],
[.02,.58],[.1,.68],[.17,.68],[.23,.68],[.24,.72],[.3,.68],[.31,.66],[.32,.68],[.23,.45],[.37,.72],[.38,.75],[.36,.65],[.35,.55],[.36,.48],[.375,.32],[.41,.58],[.43,.68],[.45,.62],[.47,.68],[.48,.55],[.5,.52],[.5,.45],[.51,.5],[.52,.47],[.51,.7],[.52,.62],[.52,.3],[.5,.75],
[.17,0],[.22,0],[.275,0],[.35,0],[.355,0],[.42,0],[.44,0],[.46,0],[.48,0],[.485,0],[.54,0]];
const ndviMeanLine = [[.02,.57],[.1,.79],[.17,.94],[.21,1.06],[.28,1.24],[.34,1.35],[.38,1.35],[.41,1.27],[.44,1.26],[.49,1.1],[.54,.93]];

const ndviSdPts = [[.1115,2.08],[.108,2.0],[.0634,1.9],[.0755,1.92],[.081,1.97],[.0855,1.97],[.091,1.78],[.104,1.79],[.113,1.78],[.1375,1.7],[.134,1.75],[.143,1.85],[.1395,1.9],[.1575,1.79],[.119,1.7],[.1138,1.53],[.1205,1.53],[.1275,1.56],[.1425,1.65],[.142,1.53],[.1375,1.5],[.132,1.42],[.124,1.38],[.122,1.38],[.1323,1.33],[.0333,1.35],[.1147,1.27],[.0533,1.27],[.0535,1.27],[.0485,1.27],[.045,.96],[.0612,1.3],[.0612,1.36],[.064,1.5],[.0535,1.6],[.056,1.5],[.0615,1.6],
[.0685,1.62],[.071,1.7],[.074,1.8],[.077,1.7],[.08,1.65],[.083,1.72],[.086,1.62],[.089,1.7],[.092,1.55],[.095,1.62],[.098,1.55],[.1,1.45],[.1,1.35],[.102,1.5],[.07,1.45],[.073,1.55],[.076,1.5],[.079,1.55],[.082,1.5],[.085,1.45],[.088,1.48],[.091,1.42],[.094,1.35],[.097,1.38],[.1,1.22],[.103,1.18],[.078,1.85],[.075,1.65],[.081,1.82],[.087,1.55],[.093,1.5],[.096,1.48],
[.066,1.08],[.069,1.05],[.072,1.02],[.075,1.08],[.078,1.05],[.081,1],[.084,1.02],[.087,1.08],[.09,.98],[.093,1.03],[.097,1],[.1,1.02],[.11,1],[.1145,1.05],[.12,.98],[.127,1],[.13,1.02],[.134,.94],[.137,.9],[.145,1.05],[.1485,.95],[.1525,1.08],[.147,.88],[.07,.94],[.0625,.87],[.043,1],[.099,.85],[.0205,.95],[.0205,.65],
[.0615,.69],[.0595,.69],[.0645,.62],[.0665,.68],[.069,.62],[.073,.62],[.0785,.76],[.0815,.76],[.085,.68],[.09,.65],[.095,.52],[.097,.5],[.1,.62],[.103,.68],[.106,.58],[.109,.75],[.11,.55],[.112,.68],[.115,.66],[.118,.62],[.122,.68],[.125,.55],[.1305,.47],[.1485,.58],[.1712,.58],[.1205,.32],[.105,.3],[.0525,.47],[.0925,.68],[.097,.62],[.094,.5],
[.054,0],[.059,0],[.0675,0],[.0745,0],[.0775,0],[.088,0],[.0935,0],[.098,0],[.1,0],[.1025,0],[.109,0],[.1115,0],[.1185,0]];
const ndviSdLine = [[.0226,.87],[.0403,1.02],[.05,1.15],[.0634,1.25],[.0707,1.35],[.0792,1.36],[.0853,1.35],[.0926,1.25],[.0975,1.13],[.1018,1.09],[.1146,1.09],[.117,1.13],[.1225,1.17],[.1292,1.17],[.1298,1.21],[.1407,1.21],[.1426,1.24],[.148,1.25],[.1511,1.28],[.1712,1.35]];

const panelPoints = [band1MeanPts, band1SdPts, band2MeanPts, band2SdPts, band3MeanPts, band3SdPts, band4MeanPts, band4SdPts,
  brightnessMeanPts, brightnessSdPts, greenessMeanPts, greenessSdPts, wetnessMeanPts, wetnessSdPts, ndviMeanPts, ndviSdPts];
const panelLines = [band1MeanLine, band1SdLine, band2MeanLine, band2SdLine, band3MeanLine, band3SdLine, band4MeanLine, band4SdLine,
  brightnessMeanLine, brightnessSdLine, greenessMeanLine, greenessSdLine, wetnessMeanLine, wetnessSdLine, ndviMeanLine, ndviSdLine];

// layout of the 6x3 grid, in page pixels
const boxLefts = [174, 849, 1523, 2198, 2873, 3547];
const boxTops = [72, 607, 1144];
const boxHeights = [186, 188, 188];
const rowYMin = [-0.05, -0.085, -0.09];
const boxWidth = 440, yAxisW = 153, rightPad = 82, topPad = 50, xAxisH = 158;
const fontName = '"Liberation Sans", Arial, sans-serif';

// frame round the plot, and the x title: the scale's own title gets squeezed to the box width
const framePlugin = {
  id: 'frame',
  afterDraw(chart, args, opts) {
    const a = chart.chartArea, c = chart.ctx;
    c.save();
    c.strokeStyle = '#000';
    c.lineWidth = 3.5;
    c.strokeRect(a.left, a.top, a.right - a.left, a.bottom - a.top);
    c.fillStyle = '#000';
    c.font = '46.5px ' + fontName;
    c.textAlign = 'center';
    c.textBaseline = 'middle';
    c.fillText(opts.text, (a.left + a.right) / 2, a.bottom + 135);
    c.restore();
  }
};

function toXY(list) {
  return list.map(p => ({ x: p[0], y: p[1] }));
}

panelTitles.forEach((title, i) => {
  const col = i % 6, row = Math.floor(i / 6);
  const cv = document.createElement('canvas');
  cv.width = yAxisW + boxWidth + rightPad;
  cv.height = topPad + boxHeights[row] + xAxisH;
  cv.style.left = (boxLefts[col] - yAxisW) + 'px';
  cv.style.top = (boxTops[row] - topPad) + 'px';
  document.body.appendChild(cv);

  new Chart(cv.getContext('2d'), {
    type: 'scatter',
    plugins: [framePlugin],
    data: {
      datasets: [{
        data: toXY(panelLines[i]),
        showLine: true,
        borderColor: '#000',
        borderWidth: 4,
        pointRadius: 0,
        tension: 0,
        clip: 0
      }, {
        data: toXY(panelPoints[i]),
        showLine: false,
        pointRadius: 6,
        pointBorderWidth: 5,
        pointBorderColor: '#d3d3d3',
        pointBackgroundColor: 'rgba(0,0,0,0)',
        clip: 0
      }]
    },
    options: {
      responsive: false,
      animation: false,
      devicePixelRatio: 1,
      layout: { padding: { top: topPad, right: rightPad, left: 0, bottom: 0 } },
      plugins: { legend: { display: false }, title: { display: false }, tooltip: { enabled: false }, frame: { text: title } },
      scales: {
        x: {
          type: 'linear',
          min: xLimits[i][0],
          max: xLimits[i][1],
          afterBuildTicks: s => { s.ticks = xTicks[i].map(v => ({ value: v })); },
          afterFit: s => { s.height = xAxisH; },
          border: { display: false },
          grid: { drawOnChartArea: false, drawTicks: true, tickLength: 20, lineWidth: 3.5, color: '#000' },
          ticks: {
            autoSkip: false, maxRotation: 0, minRotation: 0, padding: 18, color: '#000',
            font: { family: fontName, size: 46 },
            callback: (v, k) => xTickLabels[i][k]
          }
        },
        y: {
          type: 'linear',
          min: rowYMin[row],
          max: 2.19,
          afterBuildTicks: s => { s.ticks = yTicks.map(v => ({ value: v })); },
          afterFit: s => { s.width = yAxisW; },
          border: { display: false },
          grid: { drawOnChartArea: false, drawTicks: true, tickLength: 18, lineWidth: 3.5, color: '#000' },
          ticks: {
            autoSkip: false, minRotation: 90, maxRotation: 90, crossAlign: 'center', padding: -3, color: '#000',
            font: { family: fontName, size: 47 },
            callback: (v, k) => yTickLabels[k]
          },
          title: { display: true, text: yAxisTitle, color: '#000', padding: 0, font: { family: fontName, size: 48, lineHeight: 1 } }
        }
      }
    }
  });
});
</script>
</body>
</html>
